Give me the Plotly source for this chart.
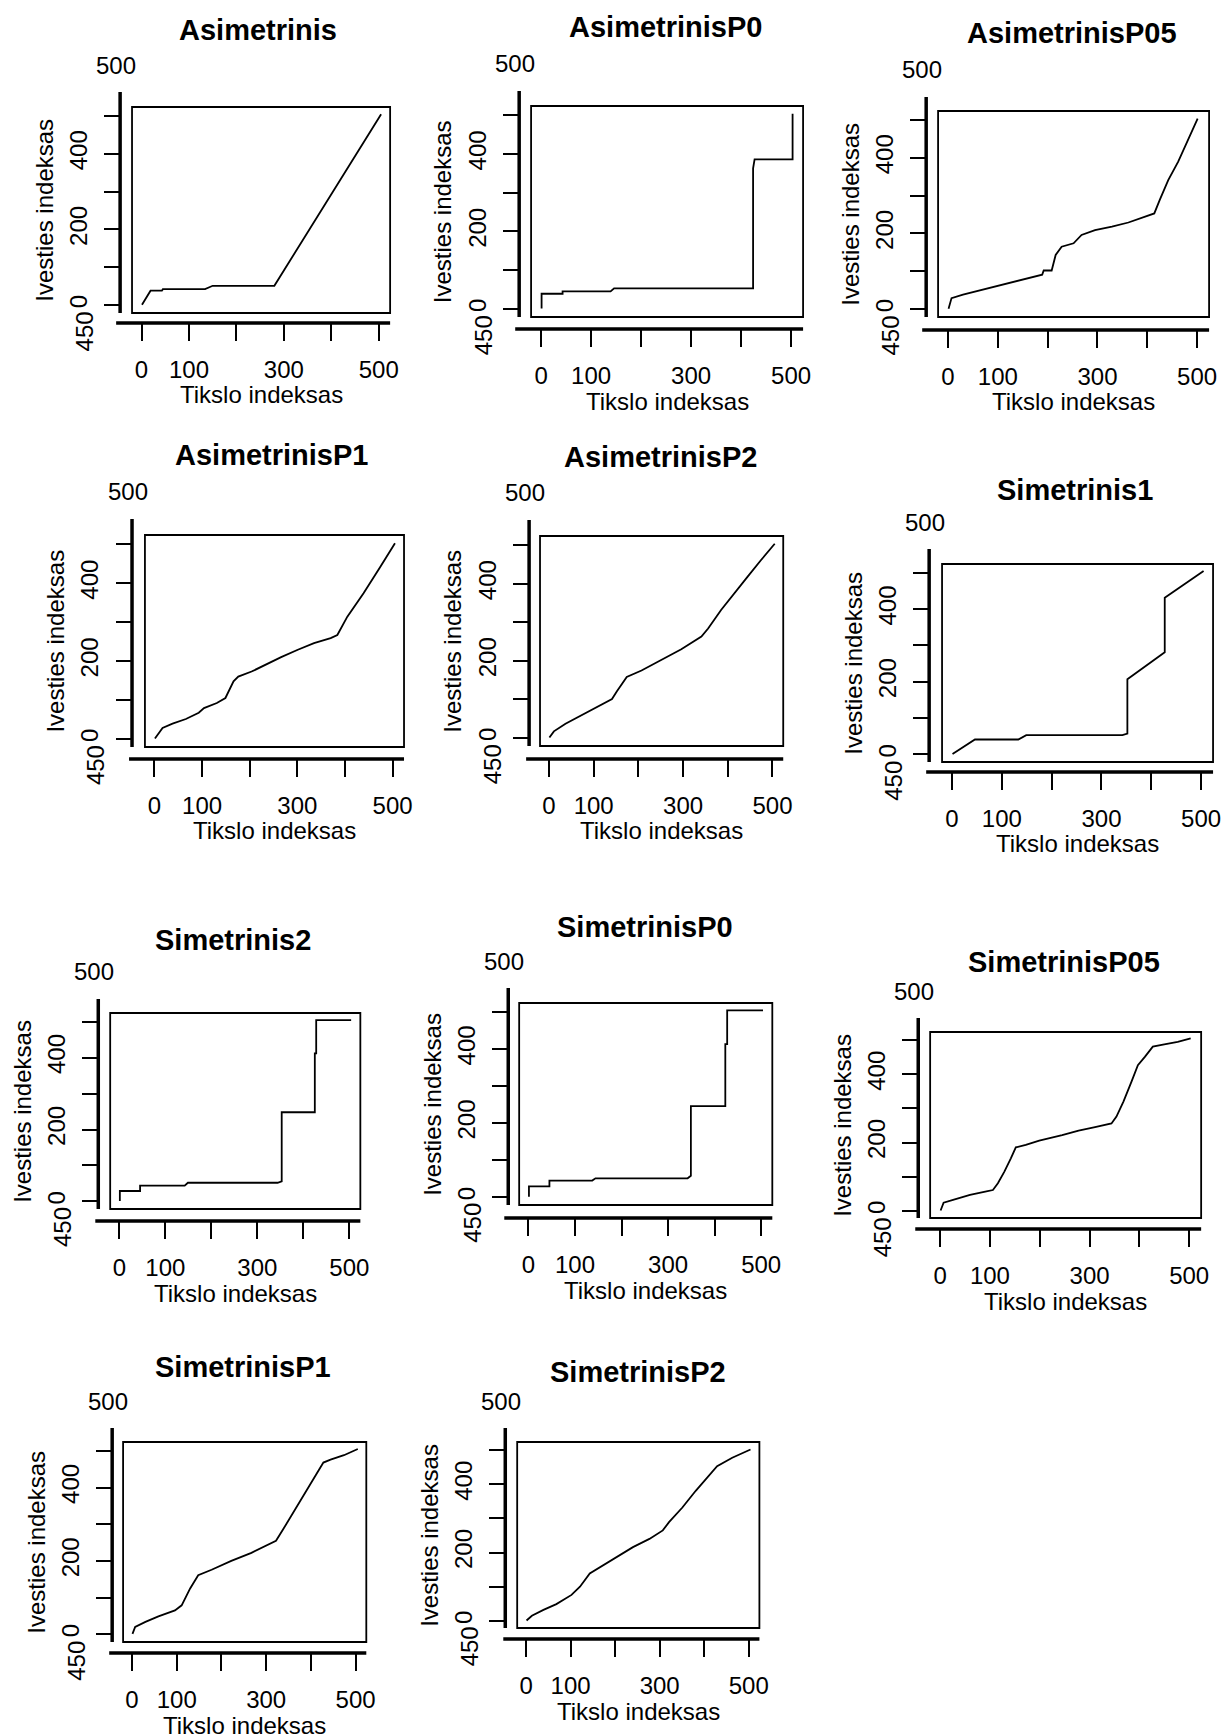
import plotly.graph_objects as go

W, H = 1230, 1736

# ---------------- data (alignment paths) ----------------
titles = ["Asimetrinis", "AsimetrinisP0", "AsimetrinisP05", "AsimetrinisP1", "AsimetrinisP2",
          "Simetrinis1", "Simetrinis2", "SimetrinisP0", "SimetrinisP05", "SimetrinisP1", "SimetrinisP2"]

x_tick_vals = [0, 100, 200, 300, 400, 500]
x_tick_text = ["0", "100", "", "300", "", "500"]
y_tick_vals = [0, 100, 200, 300, 400, 500]
y_tick_text = ["0", "", "200", "", "400", ""]
x_label = "Tikslo indeksas"
y_label = "Ivesties indeksas"

asim_x = [1, 19, 43, 45, 134, 150, 280, 505]
asim_y = [1, 38, 38, 42, 42, 51, 51, 505]

asimP0_x = [1, 1, 43, 43, 139, 146, 424, 424, 427, 503, 503]
asimP0_y = [1, 39, 39, 45, 45, 53, 53, 363, 386, 386, 504]

asimP05_x = [1, 7, 30, 63, 96, 129, 163, 189, 192, 208, 216, 228, 252, 268, 295, 329, 362, 395, 414, 425, 442, 462, 481, 501]
asimP05_y = [1, 29, 38, 49, 60, 70, 82, 91, 102, 102, 143, 165, 174, 196, 209, 218, 229, 245, 253, 289, 341, 390, 447, 504]

asimP1_x = [1, 17, 38, 66, 93, 104, 131, 149, 166, 176, 204, 232, 266, 301, 335, 370, 384, 405, 439, 474, 505]
asimP1_y = [1, 28, 39, 51, 67, 79, 92, 105, 148, 160, 173, 190, 210, 229, 246, 259, 267, 314, 374, 442, 503]

asimP2_x = [1, 11, 37, 74, 111, 141, 152, 174, 207, 244, 296, 341, 356, 385, 415, 444, 474, 505]
asimP2_y = [1, 17, 37, 60, 84, 101, 121, 158, 175, 198, 230, 263, 284, 332, 377, 418, 461, 504]

sim1_x = [1, 46, 133, 149, 342, 352, 352, 427, 427, 505]
sim1_y = [1, 41, 41, 53, 53, 57, 207, 281, 431, 505]

sim2_x = [1, 1, 45, 45, 142, 149, 344, 353, 353, 425, 425, 428, 428, 504]
sim2_y = [1, 29, 29, 44, 44, 52, 52, 56, 248, 248, 412, 412, 504, 504]

simP0_x = [1, 1, 45, 45, 137, 144, 342, 349, 349, 423, 423, 427, 427, 504]
simP0_y = [1, 29, 29, 45, 45, 51, 51, 58, 246, 246, 413, 413, 504, 504]

simP05_x = [1, 7, 26, 60, 93, 106, 116, 129, 142, 152, 172, 199, 245, 278, 311, 344, 354, 368, 384, 397, 411, 427, 450, 477, 503]
simP05_y = [1, 24, 32, 47, 57, 61, 81, 115, 154, 186, 193, 206, 222, 235, 245, 256, 276, 320, 378, 427, 451, 481, 488, 495, 505]

simP1_x = [1, 7, 30, 59, 96, 111, 130, 148, 178, 222, 267, 322, 337, 370, 400, 428, 444, 474, 505]
simP1_y = [1, 20, 34, 49, 65, 79, 125, 161, 176, 200, 222, 255, 284, 352, 411, 468, 476, 488, 505]

simP2_x = [1, 13, 39, 68, 102, 121, 143, 164, 195, 240, 277, 307, 321, 351, 381, 411, 429, 463, 504]
simP2_y = [1, 15, 32, 49, 76, 100, 139, 156, 179, 216, 240, 265, 289, 332, 381, 424, 453, 478, 502]

series = [(asim_x, asim_y), (asimP0_x, asimP0_y), (asimP05_x, asimP05_y), (asimP1_x, asimP1_y),
          (asimP2_x, asimP2_y), (sim1_x, sim1_y), (sim2_x, sim2_y), (simP0_x, simP0_y),
          (simP05_x, simP05_y), (simP1_x, simP1_y), (simP2_x, simP2_y)]

# ---------------- layout geometry (pixels) ----------------
# box left, right, top, bottom; y-axis line x, y-axis line top; x-axis line y, x-axis line left; title centre
geom = [
    dict(L=133, R=393, T=107, B=313, yl=121, yt=92, xl=323, xa=117, tx=260, ty=30),
    dict(L=535, R=809, T=106, B=317, yl=523, yt=91, xl=329, xa=519, tx=670, ty=27),
    dict(L=945, R=1218, T=111, B=317, yl=933, yt=97, xl=330, xa=929, tx=1080, ty=33),
    dict(L=146, R=407, T=535, B=747, yl=133, yt=519, xl=759, xa=130, tx=273, ty=455),
    dict(L=544, R=789, T=536, B=746, yl=533, yt=520, xl=759, xa=530, tx=665, ty=457),
    dict(L=949, R=1222, T=564, B=762, yl=936, yt=549, xl=772, xa=933, tx=1083, ty=490),
    dict(L=111, R=363, T=1013, B=1209, yl=99, yt=999, xl=1221, xa=96, tx=235, ty=940),
    dict(L=523, R=778, T=1003, B=1205, yl=512, yt=988, xl=1218, xa=508, tx=650, ty=927),
    dict(L=937, R=1210, T=1032, B=1218, yl=925, yt=1018, xl=1229, xa=922, tx=1072, ty=962),
    dict(L=124, R=369, T=1442, B=1642, yl=113, yt=1428, xl=1653, xa=110, tx=245, ty=1367),
    dict(L=521, R=765, T=1442, B=1628, yl=509, yt=1428, xl=1639, xa=507, tx=643, ty=1372),
]

XR = [-20, 524]
YR = [-21, 524]
FONT = "Liberation Sans, Arial, sans-serif"

def px(x):
    return x / W

def py(y):
    return 1 - y / H

fig = go.Figure()
layout = {}
shapes = []
annotations = []

for i, ((xs, ys), g, title) in enumerate(zip(series, geom, titles)):
    n = i + 1
    suf = "" if n == 1 else str(n)
    xa, ya = "x" + suf, "y" + suf
    fig.add_trace(go.Scatter(x=xs, y=ys, mode="lines", line=dict(color="black", width=1.8),
                             xaxis=xa, yaxis=ya, showlegend=False, hoverinfo="skip"))
    layout["xaxis" + suf] = dict(
        domain=[px(g["L"]), px(g["R"])], range=XR, anchor="free", position=py(g["xl"]),
        tickvals=x_tick_vals, ticktext=x_tick_text, ticks="outside", ticklen=17, tickwidth=2,
        tickcolor="black", showgrid=False, zeroline=False, showline=False,
        tickfont=dict(family=FONT, size=24, color="black"), ticklabelstandoff=8, fixedrange=True)
    layout["yaxis" + suf] = dict(
        domain=[py(g["B"]), py(g["T"])], range=YR, anchor="free", position=px(g["yl"]),
        tickvals=y_tick_vals, ticktext=y_tick_text, ticks="outside", ticklen=16, tickwidth=2,
        tickcolor="black", tickangle=-90, showgrid=False, zeroline=False, showline=False,
        tickfont=dict(family=FONT, size=24, color="black"), ticklabelstandoff=8, fixedrange=True)
    # plot box
    shapes.append(dict(type="rect", xref=xa + " domain", yref=ya + " domain", x0=0, x1=1, y0=0, y1=1,
                       line=dict(color="black", width=1.8)))
    # detached axis lines
    shapes.append(dict(type="line", xref="paper", yref="paper", x0=px(g["yl"]), x1=px(g["yl"]),
                       y0=py(g["B"]), y1=py(g["yt"]), line=dict(color="black", width=3.5)))
    shapes.append(dict(type="line", xref="paper", yref="paper", x0=px(g["xa"]), x1=px(g["R"]),
                       y0=py(g["xl"]), y1=py(g["xl"]), line=dict(color="black", width=3.5)))
    # titles
    annotations.append(dict(text="<b>" + title + "</b>", x=px(g["tx"]), y=py(g["ty"]), xref="paper", yref="paper",
                            showarrow=False, xanchor="center", yanchor="middle",
                            font=dict(family=FONT, size=29, color="black")))
    annotations.append(dict(text=x_label, x=px((g["L"] + g["R"]) / 2), y=py(g["xl"] + 72), xref="paper", yref="paper",
                            showarrow=False, xanchor="center", yanchor="middle",
                            font=dict(family=FONT, size=24, color="black")))
    annotations.append(dict(text=y_label, x=px(g["yl"] - 77), y=py((g["T"] + g["B"]) / 2), xref="paper", yref="paper",
                            showarrow=False, xanchor="center", yanchor="middle", textangle=-90,
                            font=dict(family=FONT, size=24, color="black")))
    # stray labels of the original figure
    y0pix = g["B"] - (0 - YR[0]) / (YR[1] - YR[0]) * (g["B"] - g["T"])
    annotations.append(dict(text="500", x=px(g["yl"] - 4), y=py(g["yt"] - 27), xref="paper", yref="paper",
                            showarrow=False, xanchor="center", yanchor="middle",
                            font=dict(family=FONT, size=24, color="black")))
    annotations.append(dict(text="450", x=px(g["yl"] - 36), y=py(y0pix + 26), xref="paper", yref="paper",
                            showarrow=False, xanchor="center", yanchor="middle", textangle=-90,
                            font=dict(family=FONT, size=24, color="black")))

fig.update_layout(**layout)
fig.update_layout(width=W, height=H, margin=dict(l=0, r=0, t=0, b=0), autosize=False,
                  paper_bgcolor="white", plot_bgcolor="white", shapes=shapes, annotations=annotations,
                  showlegend=False)

fig.write_html("out.html", config={"displayModeBar": False})
